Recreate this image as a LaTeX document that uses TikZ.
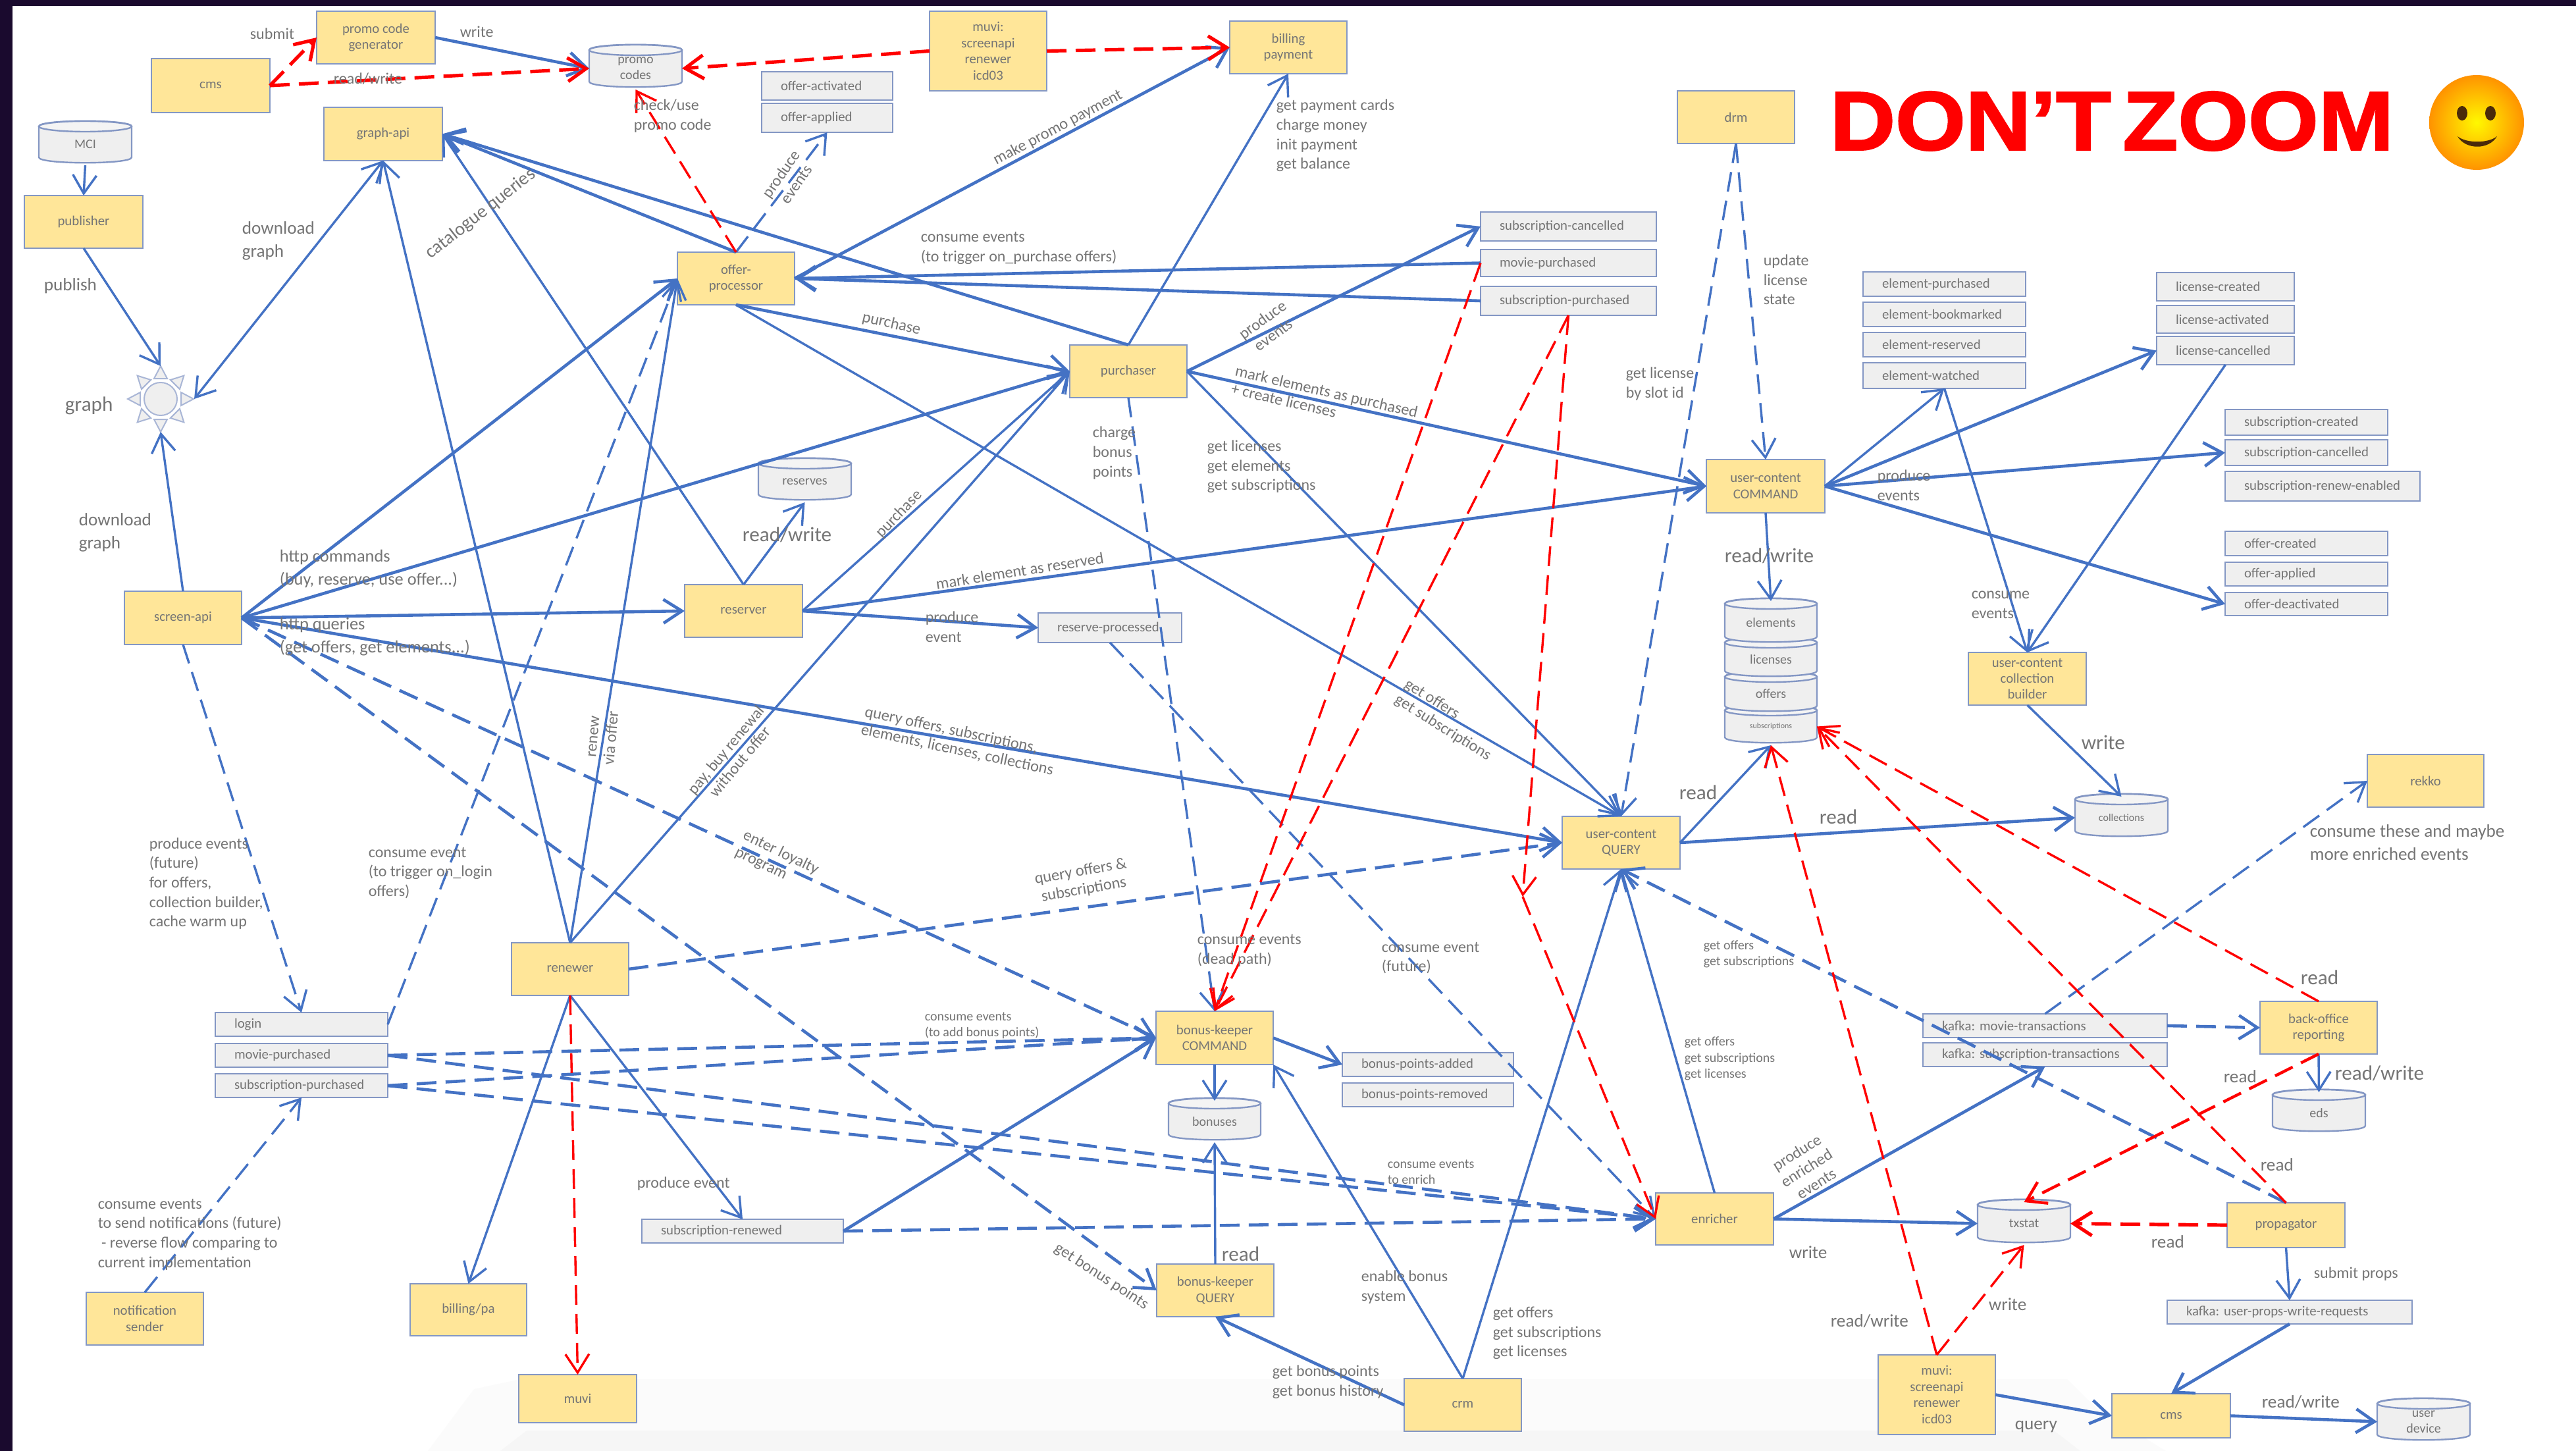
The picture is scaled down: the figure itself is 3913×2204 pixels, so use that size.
\documentclass[tikz,border=0pt]{standalone}
\usepackage{fontspec}
\setmainfont{Carlito}
\newfontfamily\dzfont[FakeBold=1.8]{Liberation Sans Bold}
\usetikzlibrary{arrows.meta}
\definecolor{bl}{HTML}{4472C4}
\definecolor{rd}{HTML}{FF0000}
\definecolor{yl}{HTML}{FFE699}
\definecolor{gy}{HTML}{EFEFEF}
\definecolor{bd}{HTML}{8497C4}
\definecolor{tx}{HTML}{757575}
\definecolor{dark}{HTML}{1A0A2E}
\definecolor{brn}{HTML}{4A2A0A}
\tikzset{
  baseb/.style={-{Straight Barb[length=7pt,width=9pt]},line join=miter},
  bthin/.style={baseb,draw=bl,line width=0.85pt},
  bthick/.style={baseb,draw=bl,line width=1.15pt},
  bdash/.style={bthin,dash pattern=on 7.5pt off 3.5pt},
  bdasht/.style={bthick,dash pattern=on 7.5pt off 3.5pt},
  rdash/.style={baseb,draw=rd,line width=0.85pt,dash pattern=on 7.5pt off 3.5pt},
  rdasht/.style={baseb,draw=rd,line width=1.3pt,dash pattern=on 7.5pt off 3.5pt},
  procbox/.style={draw=bd,fill=yl,line width=0.6pt,inner sep=0,outer sep=0,align=center,text=tx,font=\fontsize{5.2}{6.1}\selectfont},
  evtbox/.style={draw=bd,fill=gy,line width=0.6pt,inner sep=0,outer sep=0,align=left,text=tx,font=\fontsize{5.2}{6.1}\selectfont},
  cylbody/.style={draw=bd,fill=gy,line width=0.6pt},
  cyllabel/.style={inner sep=0,outer sep=0,align=center,text=tx,font=\fontsize{5}{6}\selectfont},
  ls/.style={anchor=west,inner sep=0,align=left,text=tx,yshift=-0.5pt,font=\fontsize{5}{6.1}\selectfont},
  lb/.style={anchor=west,inner sep=0,align=left,text=tx,yshift=-0.5pt,font=\fontsize{6}{7.4}\selectfont},
  lm/.style={anchor=west,inner sep=0,align=left,text=tx,yshift=-0.5pt,font=\fontsize{6.8}{8.7}\selectfont},
  ll/.style={anchor=west,inner sep=0,align=left,text=tx,yshift=-0.5pt,font=\fontsize{7.8}{9}\selectfont},
  lr/.style={anchor=center,inner sep=0,align=center,text=tx,font=\fontsize{6.1}{7}\selectfont},
}
\newcounter{tlc}
\newcommand{\ybox}[6]{\node[procbox,minimum width={(#4-#2)*0.25pt},minimum height={(#5-#3)*0.25pt}] (#1) at ({(#2+#4)/2},{(#3+#5)/2}) {#6};}
\newcommand{\evbox}[6]{\node[evtbox,text width={(#4-#2-58)*0.25pt},minimum height={(#5-#3)*0.25pt},inner xsep=7.25pt] (#1) at ({(#2+#4)/2},{(#3+#5)/2}) {\mbox{#6}};}
\newcommand{\cyln}[6]{%
  \draw[cylbody] (#2,#3+8) -- (#2,#5-8) .. controls (#2,#5+3) and (#4,#5+3) .. (#4,#5-8) -- (#4,#3+8) .. controls (#4,#3-3) and (#2,#3-3) .. cycle;
  \draw[cylbody,fill=gy!70!white] ({(#2+#4)/2},#3+8) ellipse [x radius={(#4-#2)/2},y radius=8];
  \node[cyllabel,minimum width={(#4-#2)*0.25pt},minimum height={(#5-#3)*0.25pt}] (#1) at ({(#2+#4)/2},{(#3+#5)/2+4}) {#6};}
\newcommand{\txtl}[4]{\stepcounter{tlc}\node[#1] (tl\arabic{tlc}) at (#2,#3) {#4};}
\frenchspacing
\begin{document}
\begin{tikzpicture}[x=0.25pt,y=-0.25pt]
\useasboundingbox (0,0) rectangle (3913,2204);
\fill[white] (0,0) rectangle (3913,2204);
% faint bands at the foot
\fill[black!1.5] (650,2204) -- (720,2110) -- (790,2095) -- (3140,2095) -- (3186,2140) -- (3290,2204) -- cycle;
\fill[black!3.5] (760,2204) -- (800,2173) -- (3120,2173) -- (3160,2204) -- cycle;
% dark frame
\fill[dark] (0,0) rectangle (3913,9);
\fill[dark] (0,0) rectangle (19,2204);

% yellow process boxes
\ybox{promogen}{481}{17}{661}{97}{promo code\\generator}
\ybox{cmsa}{230}{89}{410}{171}{cms}
\ybox{grapi}{492}{163}{672}{244}{graph-api}
\ybox{pub}{37}{297}{217}{377}{publisher}
\ybox{offer}{1029}{383}{1207}{463}{offer-\\processor}
\ybox{muvit}{1412}{17}{1590}{138}{muvi:\\screenapi\\renewer\\icd03}
\ybox{billpay}{1868}{32}{2046}{112}{billing\\payment}
\ybox{purch}{1625}{524}{1803}{604}{purchaser}
\ybox{drm}{2548}{138}{2726}{218}{drm}
\ybox{cmd}{2592}{698}{2772}{779}{user-content\\COMMAND}
\ybox{ccb}{2990}{991}{3169}{1071}{user-content\\collection\\builder}
\ybox{rekko}{3596}{1146}{3773}{1226}{rekko}
\ybox{qry}{2373}{1240}{2552}{1320}{user-content\\QUERY}
\ybox{screen}{189}{898}{367}{979}{screen-api}
\ybox{reserver}{1040}{888}{1219}{968}{reserver}
\ybox{renewer}{777}{1432}{955}{1512}{renewer}
\ybox{notif}{131}{1963}{309}{2043}{notification\\sender}
\ybox{billpa}{623}{1950}{800}{2029}{billing/pa}
\ybox{muvi}{788}{2088}{967}{2161}{muvi}
\ybox{bkc}{1756}{1536}{1934}{1617}{bonus-keeper\\COMMAND}
\ybox{bkq}{1757}{1920}{1935}{2000}{bonus-keeper\\QUERY}
\ybox{crm}{2133}{2094}{2311}{2174}{crm}
\ybox{enrich}{2515}{1812}{2694}{1891}{enricher}
\ybox{backoff}{3433}{1521}{3611}{1601}{back-office\\reporting}
\ybox{prop}{3383}{1827}{3562}{1895}{propagator}
\ybox{muvib}{2853}{2058}{3031}{2179}{muvi:\\screenapi\\renewer\\icd03}
\ybox{cmsb}{3208}{2117}{3388}{2184}{cms}

% grey event boxes
\evbox{eoa}{1157}{109}{1356}{152}{offer-activated}
\evbox{eop}{1157}{157}{1356}{201}{offer-applied}
\evbox{scan}{2249}{322}{2516}{366}{subscription-cancelled}
\evbox{mpur}{2249}{379}{2516}{420}{movie-purchased}
\evbox{spur}{2249}{435}{2516}{479}{subscription-purchased}
\evbox{elp}{2830}{413}{3077}{450}{element-purchased}
\evbox{elb}{2830}{459}{3077}{496}{element-bookmarked}
\evbox{elr}{2830}{505}{3077}{542}{element-reserved}
\evbox{elw}{2830}{551}{3077}{590}{element-watched}
\evbox{lcr}{3276}{414}{3485}{457}{license-created}
\evbox{lac}{3276}{464}{3485}{506}{license-activated}
\evbox{lca}{3276}{511}{3485}{554}{license-cancelled}
\evbox{scr}{3380}{622}{3627}{661}{subscription-created}
\evbox{sca}{3380}{668}{3627}{707}{subscription-cancelled}
\evbox{sre}{3380}{716}{3676}{761}{subscription-renew-enabled}
\evbox{ocr}{3380}{807}{3627}{844}{offer-created}
\evbox{oap}{3380}{854}{3627}{890}{offer-applied}
\evbox{ode}{3380}{900}{3627}{935}{offer-deactivated}
\evbox{rpr}{1577}{931}{1795}{976}{reserve-processed}
\evbox{login}{327}{1538}{589}{1574}{login}
\evbox{mpb}{327}{1585}{589}{1621}{movie-purchased}
\evbox{spb}{327}{1631}{589}{1667}{subscription-purchased}
\evbox{srn}{975}{1852}{1281}{1888}{subscription-renewed}
\evbox{bpa}{2039}{1599}{2299}{1635}{bonus-points-added}
\evbox{bpr}{2039}{1645}{2299}{1681}{bonus-points-removed}
\evbox{kmt}{2921}{1540}{3292}{1576}{kafka: movie-transactions}
\evbox{kst}{2921}{1584}{3292}{1620}{kafka: subscription-transactions}
\evbox{kup}{3292}{1975}{3664}{2011}{kafka: user-props-write-requests}

% cylinders
\cyln{mci}{59}{184}{200}{247}{MCI}
\cyln{pc}{895}{68}{1036}{132}{promo\\codes}
\cyln{rsv}{1152}{696}{1293}{759}{reserves}
\cyln{dbs}{2620}{1071}{2760}{1128}{\fontsize{3}{4}\selectfont subscriptions}
\cyln{dbo}{2620}{1020}{2760}{1080}{offers}
\cyln{dbl}{2620}{968}{2760}{1027}{licenses}
\cyln{dbe}{2620}{909}{2760}{975}{elements}
\cyln{coll}{3152}{1206}{3293}{1270}{\fontsize{4}{5}\selectfont collections}
\cyln{eds}{3452}{1655}{3593}{1718}{eds}
\cyln{txs}{3004}{1822}{3145}{1887}{txstat}
\cyln{ud}{3611}{2124}{3752}{2187}{user\\device}
\cyln{bon}{1775}{1668}{1915}{1731}{bonuses}

% sun
\foreach \a in {0,45,...,315}{
  \draw[draw=bd!70!white,fill=gy,line width=0.5pt,shift={(244,606)},rotate=\a] (50,0) -- (31,10) -- (31,-10) -- cycle;
}
\draw[draw=bd!70!white,fill=gy,line width=0.5pt] (244,606) ellipse [x radius=25,y radius=25];
\node[inner sep=0,outer sep=0,minimum width=25.5pt,minimum height=25pt] (sun) at (244,606) {};

% blue solid connectors
\draw[bthin] (mci.south) -- (pub.north);
\draw[bthin] (pub.south) -- (sun.north);
\draw[bthin,{Straight Barb[length=7pt,width=9pt]}-{Straight Barb[length=7pt,width=9pt]}] (grapi.south) -- (sun.east);
\draw[bthin] (screen.north) -- (sun.south);
\draw[bthin] (renewer.north) -- (grapi.south);
\draw[bthin] (reserver.north) -- (grapi.east);
\draw[bthick] (offer.north) -- (grapi.east);
\draw[bthick] (purch.north) -- (grapi.east);
\draw[bthick] (screen.east) -- (offer.west);
\draw[bthin] (renewer.north) -- (offer.west);
\draw[bthick] (screen.east) -- (purch.west);
\draw[bthick] (offer.south) -- (purch.west);
\draw[bthin] (offer.south) -- (qry.north);
\draw[bthin] (reserver.east) -- (purch.west);
\draw[bthin] (renewer.north) -- (purch.west);
\draw[bthick] (screen.east) -- (reserver.west);
\draw[bthick] (screen.east) -- (qry.west);
\draw[bthin] (reserver.north) -- (rsv.south);
\draw[bthick] (reserver.east) -- (cmd.west);
\draw[bthick] (reserver.east) -- (rpr.west);
\draw[bthin] (purch.north) -- (billpay.south);
\draw[bthick] (offer.east) -- (billpay.west);
\draw[bthick] (mpur.west) -- (offer.east);
\draw[bthick] (spur.west) -- (offer.east);
\draw[bthick] (purch.east) -- (scan.west);
\draw[bthick] (purch.east) -- (cmd.west);
\draw[bthin] (purch.east) -- (qry.north);
\draw[bthick] (promogen.east) -- (pc.west);
\draw[bthin] (cmd.east) -- (elw.south);
\draw[bthick] (cmd.east) -- (lca.west);
\draw[bthick] (cmd.east) -- (sca.west);
\draw[bthick] (cmd.east) -- (ode.west);
\draw[bthin] (elw.south) -- (ccb.north);
\draw[bthin] (lca.south) -- (ccb.north);
\draw[bthin] (cmd.south) -- (dbe.north);
\draw[bthin] (qry.east) -- (dbs.south);
\draw[bthick] (qry.east) -- (coll.west);
\draw[bthin] (ccb.south) -- (coll.north);
\draw[bthin] (renewer.south) -- (billpa.north);
\draw[bthin] (renewer.south) -- (srn.north);
\draw[bthick] (srn.east) -- (bkc.west);
\draw[bthin] (bkc.south) -- (bon.north);
\draw[bthick] (bkc.east) -- (bpa.west);
\draw[bthin] (bkq.north) -- (bon.south);
\draw[bthin] (crm.north) -- (bkc.south east);
\draw[bthick] (crm.west) -- (bkq.south);
\draw[bthin] (crm.north) -- (qry.south);
\draw[bthin] (enrich.north) -- (qry.south);
\draw[bthick] (enrich.east) -- (txs.west);
\draw[bthick] (enrich.east) -- (kst.south);
\draw[bthin] (backoff.south) -- (eds.north);
\draw[bthin] (prop.south) -- (kup.north);
\draw[bthick] (kup.south) -- (cmsb.north);
\draw[bthick] (muvib.east) -- (cmsb.west);
\draw[bthick] (cmsb.east) -- (ud.west);

% blue dashed connectors
\draw[bdash] (login.east) -- (offer.west);
\draw[bdash] (offer.north) -- (eop.south);
\draw[bdash] (drm.south) -- (cmd.north);
\draw[bdash] (drm.south) -- (qry.north);
\draw[bdasht] (renewer.east) -- (qry.west);
\draw[bdash] (rpr.south) -- (enrich.west);
\draw[bdash] (purch.south) -- (bkc.north);
\draw[bdasht] (screen.east) -- (bkc.west);
\draw[bdasht] (screen.east) -- (bkq.west);
\draw[bdash] (screen.south) -- (login.north);
\draw[bdasht] (mpb.east) -- (bkc.west);
\draw[bdasht] (spb.east) -- (bkc.west);
\draw[bdasht] (mpb.east) -- (enrich.west);
\draw[bdasht] (spb.east) -- (enrich.west);
\draw[bdash] (notif.north) -- (spb.south);
\draw[bdasht] (srn.east) -- (enrich.west);
\draw[bdash] (kmt.north) -- (rekko.west);
\draw[bdasht] (kmt.east) -- (backoff.west);
\draw[bdasht] (prop.north) -- (qry.south);

% red dashed connectors
\coordinate (redmid) at (2313,1362);
\draw[rdasht] (cmsa.east) -- (promogen.west);
\draw[rdasht] (cmsa.east) -- (pc.west);
\draw[rdasht] (muvit.west) -- (pc.east);
\draw[rdasht] (muvit.east) -- (billpay.west);
\draw[rdash] (offer.north) -- (pc.south);
\draw[rdash] (mpur.west) -- (bkc.north);
\draw[rdash] (spur.south) -- (bkc.north);
\draw[rdash] (spur.south) -- (redmid);
\draw[rdash] (redmid) -- (enrich.west);
\draw[rdash] (renewer.south) -- (muvi.north);
\draw[rdash] (muvib.north) -- (dbs.south);
\draw[rdash] (muvib.north) -- (txs.south);
\draw[rdash] (prop.north) -- (dbs.east);
\draw[rdash] (backoff.north) -- (dbs.east);
\draw[rdash,line width=1.1pt] (backoff.south) -- (txs.north);
\draw[rdasht] (prop.west) -- (txs.east);

% labels
\txtl{lb}{379}{49}{submit}
\txtl{lb}{698}{46}{write}
\txtl{lb}{506}{118}{read/write}
\txtl{lb}{962}{174}{check/use\\promo code}
\txtl{lm}{367}{364}{download\\graph}
\txtl{lm}{66}{432}{publish}
\txtl{ll}{98}{614}{graph}
\txtl{lr,rotate=38,font=\fontsize{7.1}{8}\selectfont}{730}{325}{catalogue queries}
\txtl{lr,rotate=55}{1198}{272}{produce\\events}
\txtl{lr,rotate=28}{1607}{194}{make promo payment}
\txtl{lb}{1398}{375}{consume events\\(to trigger on\_purchase offers)}
\txtl{lr,rotate=-13}{1354}{492}{purchase}
\txtl{lb}{1938}{204}{get payment cards\\charge money\\init payment\\get balance}
\txtl{lr,rotate=36}{1926}{497}{produce\\events}
\txtl{lr,rotate=-13,align=left}{2012}{608}{mark elements as purchased\\+ create licenses}
\txtl{lb}{1659}{686}{charge\\bonus\\points}
\txtl{lb}{1833}{707}{get licenses\\get elements\\get subscriptions}
\txtl{lb}{2469}{581}{get license\\by slot id}
\txtl{lb}{2678}{423}{update\\license\\state}
\txtl{lb}{2851}{735}{produce\\events}
\txtl{lm}{119}{807}{download\\graph}
\txtl{ll}{1127}{810}{read/write}
\txtl{lm,font=\fontsize{6.6}{8.7}\selectfont}{424}{862}{http commands\\(buy, reserve, use offer...)}
\txtl{lm,font=\fontsize{6.6}{8.7}\selectfont}{424}{965}{http queries\\(get offers, get elements...)}
\txtl{lr,rotate=85}{916}{1120}{renew\\via offer}
\txtl{lr,rotate=50}{1113}{1148}{pay, buy renewal\\without offer}
\txtl{lr,rotate=-26,align=left}{1180}{1308}{enter loyalty\\program}
\txtl{lb}{226}{1340}{produce events\\(future)\\for offers,\\collection builder,\\cache warm up}
\txtl{lb}{559}{1324}{consume event\\(to trigger on\_login\\offers)}
\txtl{lr,rotate=9}{1549}{867}{mark element as reserved}
\txtl{lb}{1405}{950}{produce\\event}
\txtl{lr,rotate=46}{1366}{781}{purchase}
\txtl{lr,rotate=-12,align=left}{1457}{1126}{query offers, subscriptions,\\elements, licenses, collections}
\txtl{lr,rotate=-32,align=left}{2199}{1094}{get offers\\get subscriptions}
\txtl{lr,rotate=10}{1644}{1338}{query offers \&\\subscriptions}
\txtl{lb}{1818}{1442}{consume events\\(dead path)}
\txtl{lb}{2098}{1453}{consume event\\(future)}
\txtl{ll}{2619}{842}{read/write}
\txtl{lb}{2994}{917}{consume\\events}
\txtl{ll}{2550}{1202}{read}
\txtl{ll}{2763}{1239}{read}
\txtl{ll}{3161}{1126}{write}
\txtl{lm}{3508}{1278}{consume these and maybe\\more enriched events}
\txtl{ll}{3494}{1483}{read}
\txtl{ls}{1404}{1556}{consume events\\(to add bonus points)}
\txtl{ls}{2107}{1778}{consume events\\to enrich}
\txtl{ll}{1855}{1903}{read}
\txtl{lr,rotate=-33}{1673}{1939}{get bonus points}
\txtl{lb}{2067}{1953}{enable bonus\\system}
\txtl{lb}{2267}{2023}{get offers\\get subscriptions\\get licenses}
\txtl{lb}{1932}{2097}{get bonus points\\get bonus history}
\txtl{ls}{2587}{1447}{get offers\\get subscriptions}
\txtl{ls}{2558}{1606}{get offers\\get subscriptions\\get licenses}
\txtl{lr,rotate=32}{2744}{1774}{produce\\enriched\\events}
\txtl{lm}{2717}{1900}{write}
\txtl{ll}{3546}{1628}{read/write}
\txtl{lm}{3377}{1633}{read}
\txtl{lm}{3433}{1767}{read}
\txtl{lm}{3267}{1884}{read}
\txtl{lb}{3514}{1933}{submit props}
\txtl{lm}{3020}{1979}{write}
\txtl{lm}{2780}{2005}{read/write}
\txtl{lm}{3060}{2165}{query}
\txtl{lm}{3435}{2128}{read/write}
\txtl{lb}{967}{1796}{produce event}
\txtl{lb}{148}{1873}{consume events\\to send notifications (future)\\\ - reverse flow comparing to\\current implementation}

% headline and smiley
\node[inner sep=0,text=rd,font=\dzfont\fontsize{31.75}{36}\selectfont] (dz) at (3208,184) {\scalebox{1.08}[1]{DON’T\hspace{0.13em}ZOOM}};
\shade[inner color=yellow!95!orange,outer color=orange!85!yellow] (3762,186) circle [radius=72];
\fill[brn] (3740,172) ellipse [x radius=8,y radius=11];
\fill[brn] (3783,172) ellipse [x radius=8,y radius=11];
\fill[brn] (3733,207) .. controls (3745,228) and (3781,228) .. (3793,207) .. controls (3780,218) and (3746,218) .. cycle;
\end{tikzpicture}
\end{document}
